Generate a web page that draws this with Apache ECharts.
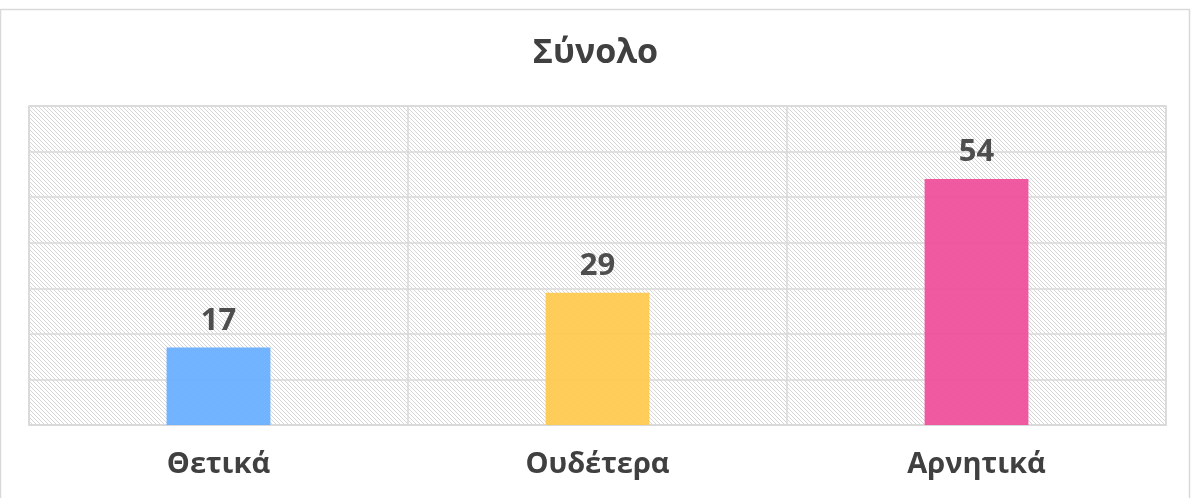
<!DOCTYPE html>
<html><head><meta charset="utf-8">
<script src="https://cdn.jsdelivr.net/npm/echarts@6/dist/echarts.min.js"></script>
<style>html,body{margin:0;padding:0;background:#fff}#c{width:1191px;height:498px}</style>
</head><body><div id="c"></div>
<script>
const titleText = 'Σύνολο';
const categories = ['Θετικά', 'Ουδέτερα', 'Αρνητικά'];
const values = [17, 29, 54];
const barColors = ['#66AEFF', '#FFC94C', '#EE4C98'];
const yTicks = [0, 10, 20, 30, 40, 50, 60, 70];

function hatch() {
  const c = document.createElement('canvas');
  c.width = 8; c.height = 8;
  const ctx = c.getContext('2d');
  ctx.fillStyle = '#ffffff'; ctx.fillRect(0, 0, 8, 8);
  ctx.fillStyle = '#d6d6d6';
  for (let y = 0; y < 8; y++) for (let x = 0; x < 8; x++) {
    if (((x - y) % 4 + 4) % 4 === 0) ctx.fillRect(x, y, 1, 1);
  }
  return c;
}
const font = '"Open Sans", "Noto Sans", sans-serif';
const chart = echarts.init(document.getElementById('c'), null, {renderer: 'canvas'});
chart.setOption({
  animation: false,
  graphic: [{type: 'rect', shape: {x: 0.5, y: 9.5, width: 1189, height: 500}, style: {fill: 'none', stroke: '#d9d9d9', lineWidth: 1.5}, silent: true, z: -10}],
  title: {text: titleText, left: 'center', top: 31, textStyle: {fontFamily: font, fontWeight: 'bold', fontSize: 34, color: '#404040'}},
  grid: {left: 29, right: 25, top: 106, bottom: 73, show: true, borderColor: '#d9d9d9', borderWidth: 1.5,
    backgroundColor: {image: hatch(), repeat: 'repeat'}},
  xAxis: {type: 'category', data: categories,
    axisLine: {lineStyle: {color: '#d9d9d9', width: 1.5}}, axisTick: {show: false},
    splitLine: {show: true, interval: 0, lineStyle: {color: '#d9d9d9', width: 1.5}},
    axisLabel: {margin: 25, fontFamily: font, fontWeight: 'bold', fontSize: 29, color: '#404040'}},
  yAxis: {type: 'value', min: yTicks[0], max: yTicks[yTicks.length - 1], interval: 10,
    axisLabel: {show: false}, axisLine: {show: false}, axisTick: {show: false},
    splitLine: {lineStyle: {color: '#d9d9d9', width: 1.5}}},
  series: [{type: 'bar', barWidth: '27.4%', z: 1,
    data: values.map((v, i) => ({value: v, itemStyle: {color: barColors[i], opacity: 0.92}})),
    label: {show: true, position: 'top', distance: 11, fontFamily: font, fontWeight: 'bold', fontSize: 31, color: '#404040'}}]
});
</script></body></html>
